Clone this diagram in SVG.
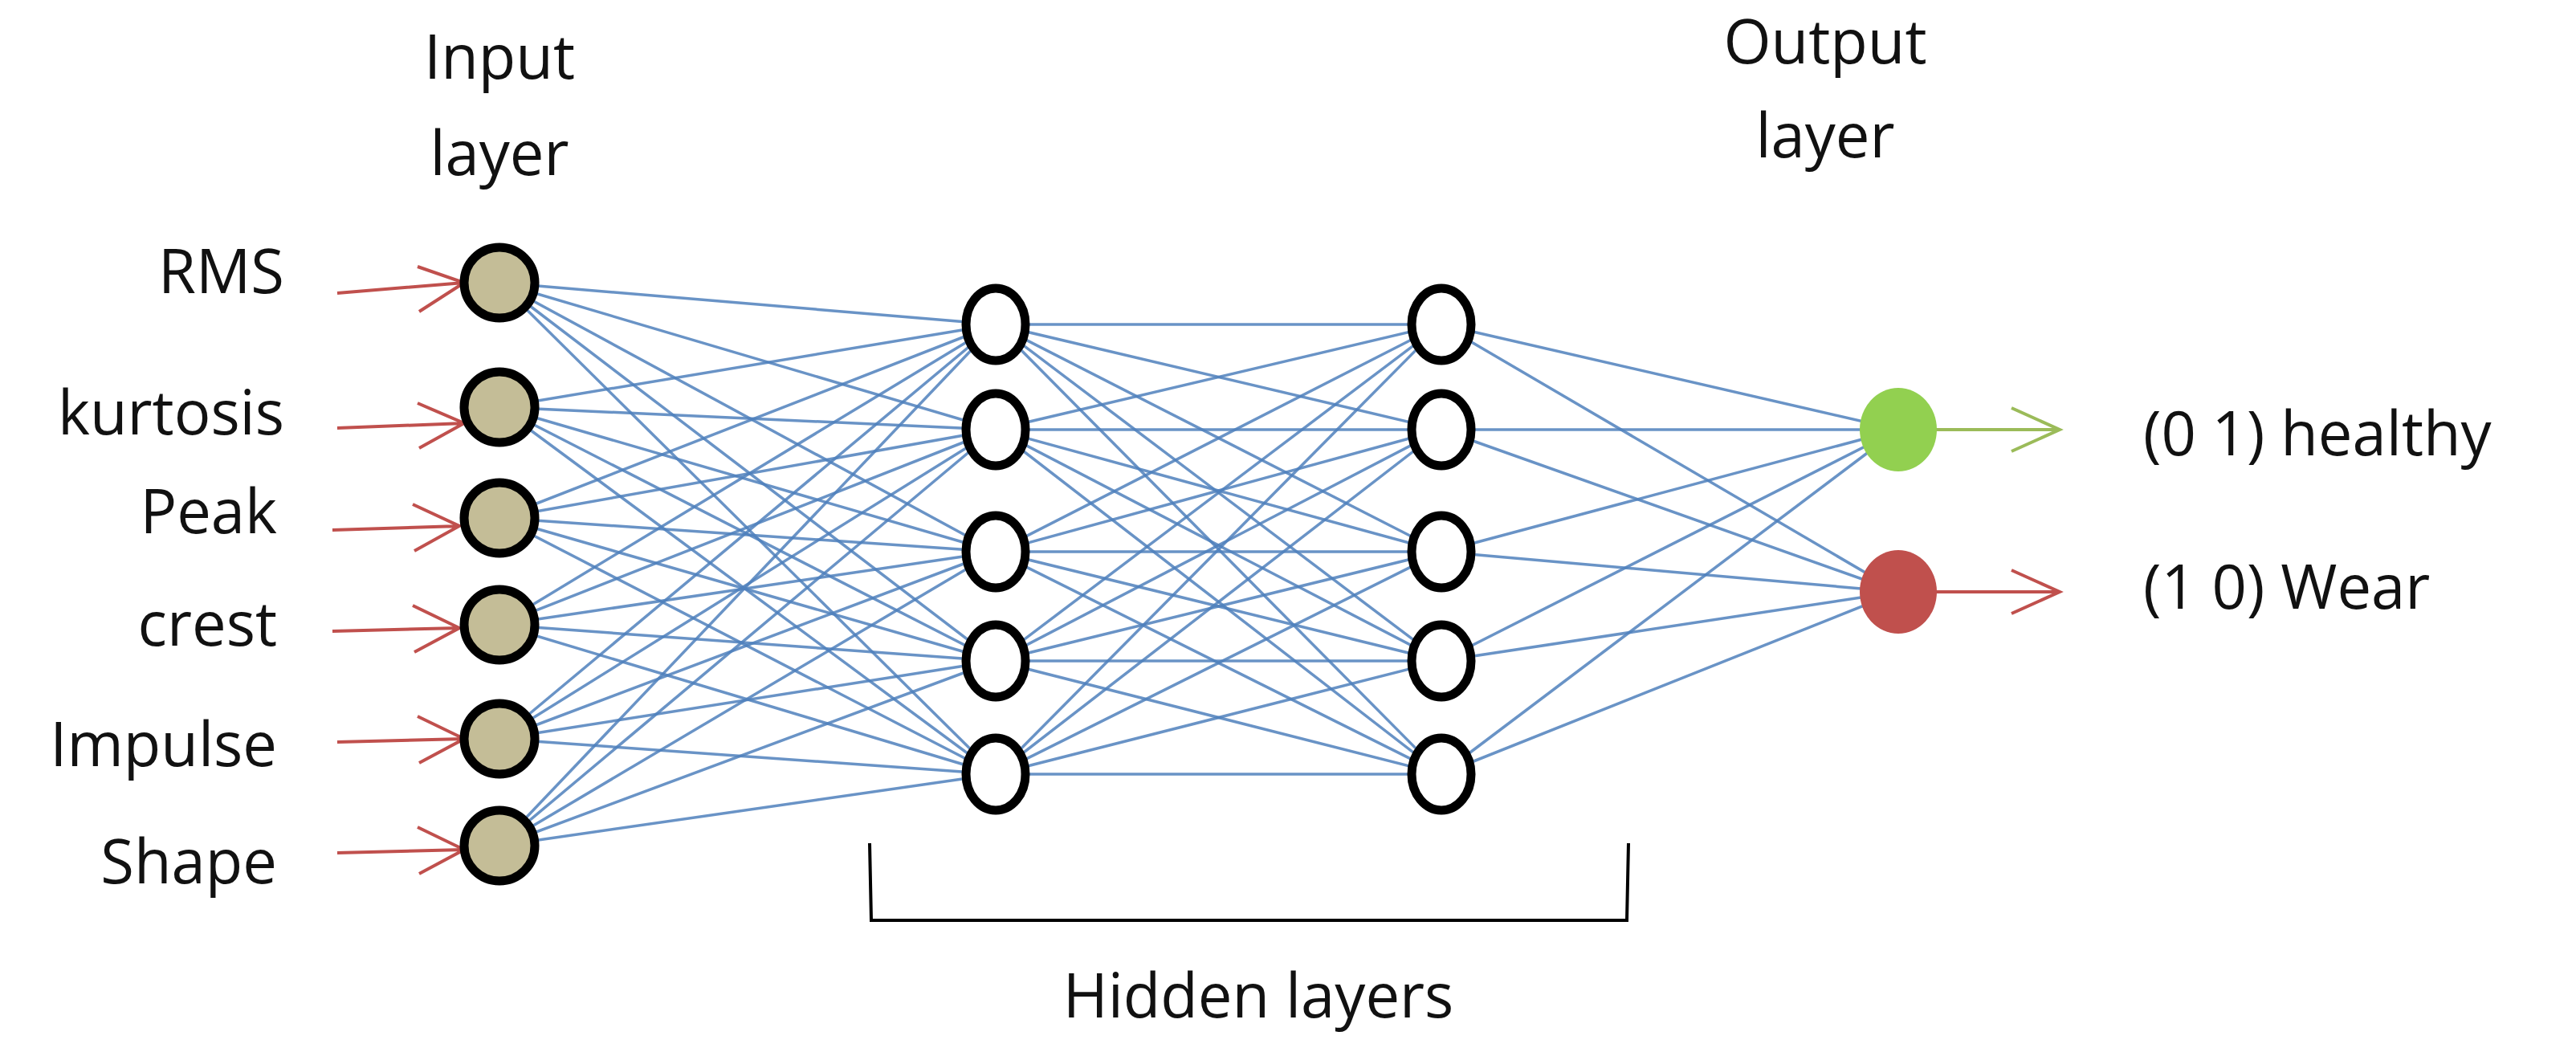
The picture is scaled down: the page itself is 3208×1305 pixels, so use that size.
<svg xmlns="http://www.w3.org/2000/svg" width="3208" height="1305" viewBox="0 0 3208 1305">
<style>
text{font-family:"Open Sans","Liberation Sans",sans-serif;font-size:76px;fill:#111}
.c line{stroke:#4f81bd;stroke-width:3.5;opacity:.85}
.in{fill:#c4bd97;stroke:#000;stroke-width:11}
.hd{fill:#fff;stroke:#000;stroke-width:11}
.ra{stroke:#c0504d;stroke-width:4;fill:none}
.ga{stroke:#9bbb59;stroke-width:4;fill:none}
</style>
<rect width="3208" height="1305" fill="#fff"/>
<g id="connectors" class="c">
<!-- input to hidden1 -->
<line x1="622" y1="352" x2="1240" y2="404"/><line x1="622" y1="352" x2="1240" y2="535"/><line x1="622" y1="352" x2="1240" y2="687"/><line x1="622" y1="352" x2="1240" y2="823"/><line x1="622" y1="352" x2="1240" y2="964"/>
<line x1="622" y1="507" x2="1240" y2="404"/><line x1="622" y1="507" x2="1240" y2="535"/><line x1="622" y1="507" x2="1240" y2="687"/><line x1="622" y1="507" x2="1240" y2="823"/><line x1="622" y1="507" x2="1240" y2="964"/>
<line x1="622" y1="645" x2="1240" y2="404"/><line x1="622" y1="645" x2="1240" y2="535"/><line x1="622" y1="645" x2="1240" y2="687"/><line x1="622" y1="645" x2="1240" y2="823"/><line x1="622" y1="645" x2="1240" y2="964"/>
<line x1="622" y1="778" x2="1240" y2="404"/><line x1="622" y1="778" x2="1240" y2="535"/><line x1="622" y1="778" x2="1240" y2="687"/><line x1="622" y1="778" x2="1240" y2="823"/><line x1="622" y1="778" x2="1240" y2="964"/>
<line x1="622" y1="920" x2="1240" y2="404"/><line x1="622" y1="920" x2="1240" y2="535"/><line x1="622" y1="920" x2="1240" y2="687"/><line x1="622" y1="920" x2="1240" y2="823"/><line x1="622" y1="920" x2="1240" y2="964"/>
<line x1="622" y1="1053" x2="1240" y2="404"/><line x1="622" y1="1053" x2="1240" y2="535"/><line x1="622" y1="1053" x2="1240" y2="687"/><line x1="622" y1="1053" x2="1240" y2="823"/><line x1="622" y1="1053" x2="1240" y2="964"/>
<!-- hidden1 to hidden2 -->
<line x1="1240" y1="404" x2="1795" y2="404"/><line x1="1240" y1="404" x2="1795" y2="535"/><line x1="1240" y1="404" x2="1795" y2="687"/><line x1="1240" y1="404" x2="1795" y2="823"/><line x1="1240" y1="404" x2="1795" y2="964"/>
<line x1="1240" y1="535" x2="1795" y2="404"/><line x1="1240" y1="535" x2="1795" y2="535"/><line x1="1240" y1="535" x2="1795" y2="687"/><line x1="1240" y1="535" x2="1795" y2="823"/><line x1="1240" y1="535" x2="1795" y2="964"/>
<line x1="1240" y1="687" x2="1795" y2="404"/><line x1="1240" y1="687" x2="1795" y2="535"/><line x1="1240" y1="687" x2="1795" y2="687"/><line x1="1240" y1="687" x2="1795" y2="823"/><line x1="1240" y1="687" x2="1795" y2="964"/>
<line x1="1240" y1="823" x2="1795" y2="404"/><line x1="1240" y1="823" x2="1795" y2="535"/><line x1="1240" y1="823" x2="1795" y2="687"/><line x1="1240" y1="823" x2="1795" y2="823"/><line x1="1240" y1="823" x2="1795" y2="964"/>
<line x1="1240" y1="964" x2="1795" y2="404"/><line x1="1240" y1="964" x2="1795" y2="535"/><line x1="1240" y1="964" x2="1795" y2="687"/><line x1="1240" y1="964" x2="1795" y2="823"/><line x1="1240" y1="964" x2="1795" y2="964"/>
<!-- hidden2 to output -->
<line x1="1795" y1="404" x2="2364" y2="535"/><line x1="1795" y1="404" x2="2364" y2="737"/>
<line x1="1795" y1="535" x2="2364" y2="535"/><line x1="1795" y1="535" x2="2364" y2="737"/>
<line x1="1795" y1="687" x2="2364" y2="535"/><line x1="1795" y1="687" x2="2364" y2="737"/>
<line x1="1795" y1="823" x2="2364" y2="535"/><line x1="1795" y1="823" x2="2364" y2="737"/>
<line x1="1795" y1="964" x2="2364" y2="535"/><line x1="1795" y1="964" x2="2364" y2="737"/>
<!-- input arrows -->
<g class="ra">
<path d="M420 365 L578 352 M520 332 L578 352 L522 388"/>
<path d="M420 533 L578 527 M520 502 L578 527 L522 558"/>
<path d="M414 660 L572 655 M514 628 L572 655 L516 686"/>
<path d="M414 786 L572 782 M514 754 L572 782 L516 812"/>
<path d="M420 924 L578 920 M520 892 L578 920 L522 950"/>
<path d="M420 1062 L578 1058 M520 1030 L578 1058 L522 1088"/>
<path d="M2410 737 L2565 737 M2505 710 L2565 737 L2505 764"/>
</g>
<path class="ga" d="M2410 535 L2565 535 M2505 508 L2565 535 L2505 562"/>
</g>
<g id="input-nodes">
<circle class="in" cx="622" cy="352" r="44"/><circle class="in" cx="622" cy="507" r="44"/><circle class="in" cx="622" cy="645" r="44"/><circle class="in" cx="622" cy="778" r="44"/><circle class="in" cx="622" cy="920" r="44"/><circle class="in" cx="622" cy="1053" r="44"/>
</g>
<g id="hidden1">
<ellipse class="hd" cx="1240" cy="404" rx="37" ry="45"/><ellipse class="hd" cx="1240" cy="535" rx="37" ry="45"/><ellipse class="hd" cx="1240" cy="687" rx="37" ry="45"/><ellipse class="hd" cx="1240" cy="823" rx="37" ry="45"/><ellipse class="hd" cx="1240" cy="964" rx="37" ry="45"/>
</g>
<g id="hidden2">
<ellipse class="hd" cx="1795" cy="404" rx="37" ry="45"/><ellipse class="hd" cx="1795" cy="535" rx="37" ry="45"/><ellipse class="hd" cx="1795" cy="687" rx="37" ry="45"/><ellipse class="hd" cx="1795" cy="823" rx="37" ry="45"/><ellipse class="hd" cx="1795" cy="964" rx="37" ry="45"/>
</g>
<g id="output-nodes">
<ellipse cx="2364" cy="535" rx="48" ry="52" fill="#92d050"/>
<ellipse cx="2364" cy="737" rx="48" ry="52" fill="#c0504d"/>
</g>
<g id="bracket">
<path d="M1083 1050 L1085 1146 L2026 1146 L2028 1050" fill="none" stroke="#000" stroke-width="4"/>
</g>
<g id="labels">
<text x="622" y="98" text-anchor="middle">Input</text>
<text x="622" y="218" text-anchor="middle">layer</text>
<text x="2273" y="79" text-anchor="middle">Output</text>
<text x="2273" y="196" text-anchor="middle">layer</text>
<text x="354" y="365" text-anchor="end">RMS</text>
<text x="354" y="541" text-anchor="end">kurtosis</text>
<text x="345" y="664" text-anchor="end">Peak</text>
<text x="345" y="804" text-anchor="end">crest</text>
<text x="345" y="954" text-anchor="end">Impulse</text>
<text x="345" y="1100" text-anchor="end">Shape</text>
<text x="2669" y="567">(0 1) healthy</text>
<text x="2669" y="758">(1 0) Wear</text>
<text x="1567" y="1267" text-anchor="middle">Hidden layers</text>
</g>
</svg>
